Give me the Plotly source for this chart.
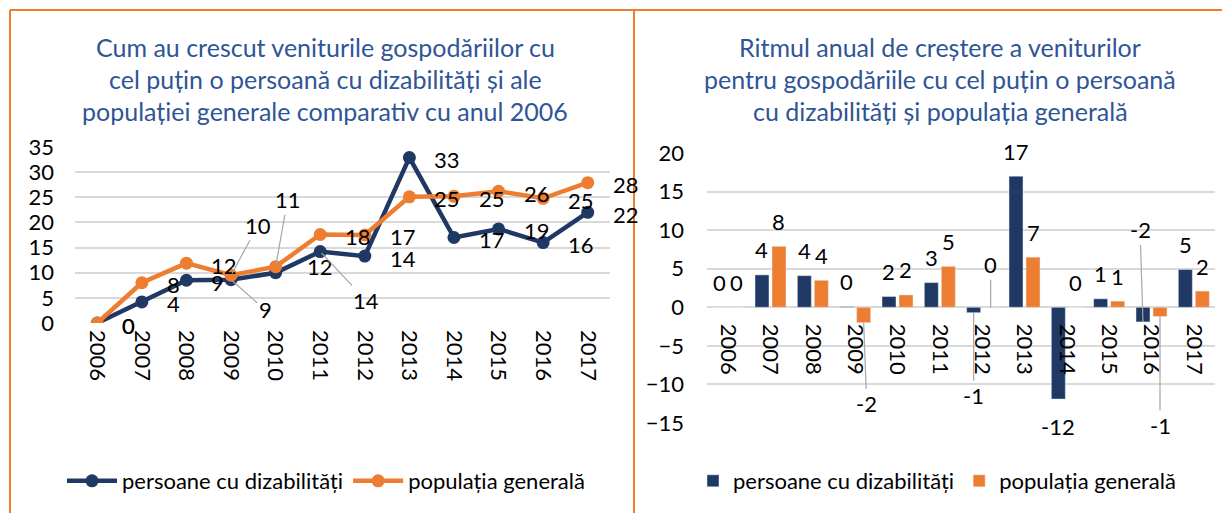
import plotly.graph_objects as go

years = ["2006", "2007", "2008", "2009", "2010", "2011", "2012", "2013", "2014", "2015", "2016", "2017"]

# Left chart: cumulative growth vs 2006
cum_dis = [0, 4.2, 8.5, 8.6, 10.0, 14.2, 13.3, 32.9, 17.0, 18.7, 16.0, 22.0]
cum_gen = [0, 8.0, 11.9, 9.5, 11.2, 17.6, 17.5, 25.1, 25.2, 26.2, 24.8, 27.9]
cum_dis_labels = ["0", "4", "9", "9", "12", "14", "14", "33", "17", "19", "16", "22"]
cum_gen_labels = ["0", "8", "12", "10", "11", "18", "17", "25", "25", "26", "25", "28"]

# Right chart: annual growth rate
rate_dis = [0, 4.2, 4.1, 0.1, 1.4, 3.2, -0.7, 17.0, -11.9, 1.1, -1.9, 4.9]
rate_gen = [0, 7.9, 3.5, -2.0, 1.6, 5.3, -0.05, 6.5, 0.0, 0.8, -1.2, 2.1]
rate_dis_labels = ["0", "4", "4", "0", "2", "3", "-1", "17", "-12", "1", "-2", "5"]
rate_gen_labels = ["0", "8", "4", "-2", "2", "5", "0", "7", "0", "1", "-1", "2"]

series_names = ["persoane cu dizabilități", "populația generală"]
title_left = ["Cum au crescut veniturile gospodăriilor cu",
              "cel puțin o persoană cu dizabilități și ale",
              "populației generale comparativ cu anul 2006"]
title_right = ["Ritmul anual de creștere a veniturilor",
               "pentru gospodăriile cu cel puțin o persoană",
               "cu dizabilități și populația generală"]

# ---- styling ----
W, H = 1230, 513
PAGE_OFF = 8  # default body margin of the html page
FONT = "Lato"
NAVY = "#203864"
ORANGE = "#ED7D31"
GRID = "#D9D9D9"
TITLE_C = "#2F5597"
LEADER = "#A6A6A6"
FS = 22


def px_x(p):
    return (p - PAGE_OFF) / W


def px_y(p):
    return 1 - (p - PAGE_OFF) / H


fig = go.Figure()

fig.add_trace(go.Scatter(x=years, y=cum_dis, mode="lines+markers", name=series_names[0],
                         line=dict(color=NAVY, width=4.5), marker=dict(size=13, color=NAVY),
                         xaxis="x", yaxis="y", legend="legend"))
fig.add_trace(go.Scatter(x=years, y=cum_gen, mode="lines+markers", name=series_names[1],
                         line=dict(color=ORANGE, width=4.5), marker=dict(size=13, color=ORANGE),
                         xaxis="x", yaxis="y", legend="legend"))
fig.add_trace(go.Bar(x=years, y=rate_dis, name=series_names[0], marker=dict(color=NAVY),
                     xaxis="x2", yaxis="y2", legend="legend2"))
fig.add_trace(go.Bar(x=years, y=rate_gen, name=series_names[1], marker=dict(color=ORANGE),
                     xaxis="x2", yaxis="y2", legend="legend2"))

ann = []
lab_font = dict(family=FONT, size=FS, color="#000000")

# left chart labels
left_drag = {(0, 3): (34, 30), (1, 3): (27, -50), (1, 4): (12, -67), (0, 5): (46, 49)}
left_shift = {(0, 4): (29, 6)}
for s, (vals, labs) in enumerate([(cum_dis, cum_dis_labels), (cum_gen, cum_gen_labels)]):
    for i, (v, t) in enumerate(zip(vals, labs)):
        if (s, i) in left_drag:
            ax, ay = left_drag[(s, i)]
            ann.append(dict(x=i, y=v, xref="x", yref="y", text=t, showarrow=True,
                            arrowhead=0, arrowwidth=1.2, arrowcolor=LEADER, ax=ax, ay=ay,
                            standoff=2, font=dict(lab_font)))
        else:
            xs, ys = left_shift.get((s, i), (23, -2))
            ann.append(dict(x=i, y=v, xref="x", yref="y", text=t, showarrow=False,
                            xanchor="left", yanchor="middle", xshift=xs, yshift=ys,
                            font=dict(lab_font)))

# right chart labels
right_drag = {(1, 3): (3, 81), (0, 6): (0, 83), (1, 6): (0, -43), (0, 10): (-3, -92), (1, 10): (0, 109)}
for s, (vals, labs) in enumerate([(rate_dis, rate_dis_labels), (rate_gen, rate_gen_labels)]):
    off = -8.5 if s == 0 else 8.5
    for i, (v, t) in enumerate(zip(vals, labs)):
        if (s, i) in right_drag:
            ax, ay = right_drag[(s, i)]
            ann.append(dict(x=i, y=v, xref="x2", yref="y2", text=t, showarrow=True,
                            arrowhead=0, arrowwidth=1.2, arrowcolor=LEADER, ax=ax, ay=ay,
                            standoff=0, xshift=off, font=dict(lab_font)))
        else:
            ann.append(dict(x=i, y=v, xref="x2", yref="y2", text=t, showarrow=False,
                            xanchor="center", yanchor="middle", xshift=off,
                            yshift=25 if v >= 0 else -27, font=dict(lab_font)))

# titles
for k, line in enumerate(title_left):
    ann.append(dict(x=px_x(325), y=px_y(47 + k * 32), xref="paper", yref="paper", text=line,
                    showarrow=False, xanchor="center", yanchor="middle",
                    font=dict(family=FONT, size=25, color=TITLE_C)))
for k, line in enumerate(title_right):
    ann.append(dict(x=px_x(940), y=px_y(47 + k * 32), xref="paper", yref="paper", text=line,
                    showarrow=False, xanchor="center", yanchor="middle",
                    font=dict(family=FONT, size=25, color=TITLE_C)))

shapes = [
    dict(type="line", xref="paper", yref="paper", x0=px_x(10), x1=1.0, y0=px_y(10), y1=px_y(10),
         line=dict(color=ORANGE, width=2)),
    dict(type="line", xref="paper", yref="paper", x0=px_x(10), x1=px_x(10), y0=px_y(10), y1=0,
         line=dict(color=ORANGE, width=2)),
    dict(type="line", xref="paper", yref="paper", x0=px_x(634), x1=px_x(634), y0=px_y(10), y1=0,
         line=dict(color=ORANGE, width=2)),
]

tick_font = dict(family=FONT, size=FS, color="#000000")
zero_pos = px_y(306.7)

fig.update_layout(
    width=W, height=H,
    margin=dict(l=0, r=0, t=0, b=0, autoexpand=False),
    paper_bgcolor="white", plot_bgcolor="white",
    showlegend=True,
    barmode="group", bargap=0.197, bargroupgap=0.176,
    xaxis=dict(domain=[px_x(75), px_x(610)], anchor="y", type="category", tickangle=90,
               showgrid=False, showline=False, ticks="", tickfont=tick_font, automargin=False,
               ticklabelstandoff=6, range=[-0.5, 11.5]),
    yaxis=dict(domain=[px_y(323), px_y(147)], anchor="x", range=[0, 35], dtick=5,
               showgrid=True, gridcolor=GRID, gridwidth=1.5, zeroline=False, showline=False,
               ticks="", tickfont=tick_font, ticklabelstandoff=20, automargin=False),
    xaxis2=dict(domain=[px_x(707), px_x(1215)], anchor="free", position=zero_pos,
                type="category", tickangle=90, showgrid=False, showline=False, ticks="",
                tickfont=tick_font, ticklabelstandoff=16, range=[-0.5, 11.5], automargin=False),
    yaxis2=dict(domain=[px_y(423), px_y(153)], anchor="x2", range=[-15, 20], dtick=5,
                showgrid=True, gridcolor=GRID, gridwidth=1.5, zeroline=True, zerolinecolor=GRID,
                zerolinewidth=1.5, showline=False, ticks="", tickfont=tick_font,
                ticklabelstandoff=22, automargin=False),
    legend=dict(x=px_x(326), y=px_y(481), xanchor="center", yanchor="middle", orientation="h",
                itemwidth=50,
                font=dict(family=FONT, size=FS, color="#000000"), bgcolor="rgba(0,0,0,0)"),
    legend2=dict(x=px_x(937), y=px_y(481), xanchor="center", yanchor="middle", orientation="h",
                 font=dict(family=FONT, size=FS, color="#000000"), bgcolor="rgba(0,0,0,0)"),
    annotations=ann,
    shapes=shapes,
    font=dict(family=FONT),
)

fig.write_html("out.html")
